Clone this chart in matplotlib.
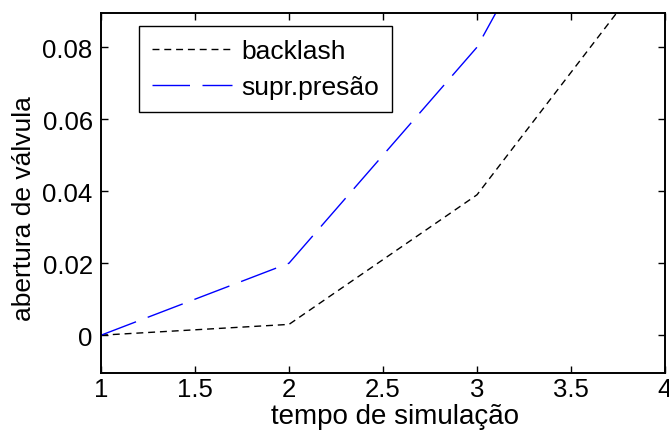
import matplotlib
matplotlib.use("Agg")
import matplotlib.pyplot as plt

# simulation time and valve opening for each case
tempo = [1, 2, 3, 4]
backlash = [0.0, 0.003, 0.039, 0.107]
supr_presao = [0.0, 0.02, 0.08, 0.175]

x_ticks = [1, 1.5, 2, 2.5, 3, 3.5, 4]
x_tick_labels = ["1", "1.5", "2", "2.5", "3", "3.5", "4"]
y_ticks = [0, 0.02, 0.04, 0.06, 0.08]
y_tick_labels = ["0", "0.02", "0.04", "0.06", "0.08"]

plt.rcParams["font.family"] = ["Liberation Sans", "DejaVu Sans"]
FS = 18.5

fig = plt.figure(figsize=(6.69, 4.35), dpi=100)
ax = fig.add_axes([101 / 669, 61 / 435, 564 / 669, 360 / 435])

ax.plot(tempo, backlash, color="black", linewidth=1.0, linestyle=(0, (5, 3.5)),
        label="backlash")
ax.plot(tempo, supr_presao, color="blue", linewidth=1.0, linestyle=(0, (27, 9)),
        label="supr.presão")

ax.set_xlim(1, 4)
ax.set_ylim(-0.0105, 0.0895)
ax.set_xticks(x_ticks)
ax.set_xticklabels(x_tick_labels)
ax.set_yticks(y_ticks)
ax.set_yticklabels(y_tick_labels)

ax.tick_params(direction="in", length=5, width=1.0, labelsize=FS,
               top=True, right=True, colors="black")
ax.tick_params(axis="x", pad=3)
ax.tick_params(axis="y", pad=6)
for sp in ax.spines.values():
    sp.set_linewidth(1.4)

ax.set_xlabel("tempo de simulação", fontsize=20)
ax.xaxis.set_label_coords(0.521, -0.083)
ax.set_ylabel("abertura de válvula", fontsize=19)
ax.yaxis.set_label_coords(-0.115, 0.46)

leg = ax.legend(loc="upper left", bbox_to_anchor=(0.0674, 0.963),
                borderaxespad=0, fontsize=FS, frameon=True, fancybox=False,
                framealpha=1, edgecolor="black", handlelength=3.1,
                handletextpad=0.38, borderpad=0.5, labelspacing=0.45)
leg.get_frame().set_linewidth(1.0)
for t in leg.get_texts():
    t.set_fontsize(19)

fig.savefig("out.png", dpi=100)
